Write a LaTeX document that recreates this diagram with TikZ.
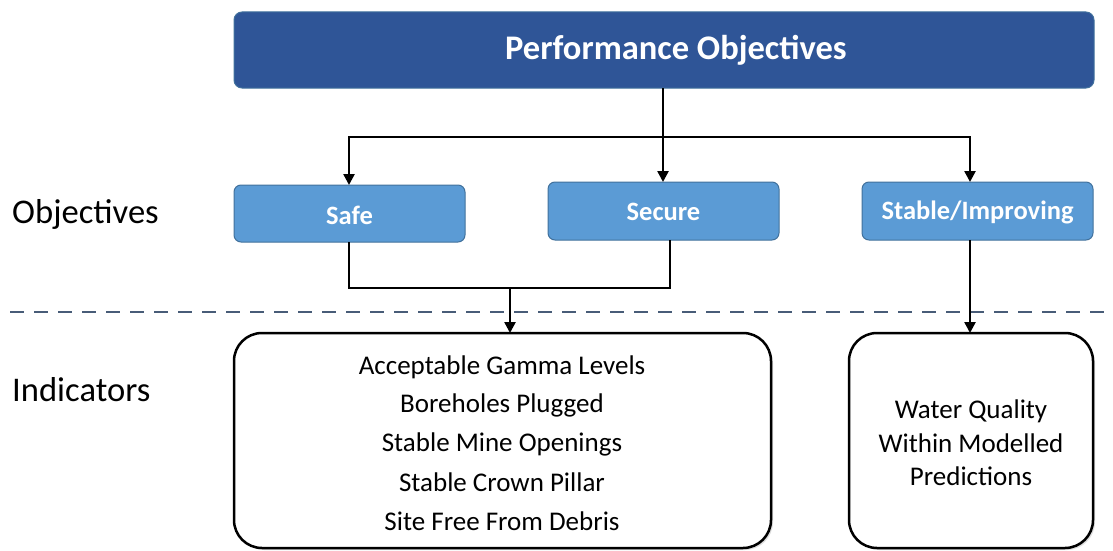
\documentclass[tikz,border=0pt]{standalone}
\usepackage{fontspec}
\setmainfont{Carlito}
\usetikzlibrary{arrows.meta,shadows}
\definecolor{topblue}{RGB}{47,85,151}
\definecolor{midblue}{RGB}{91,155,213}
\definecolor{edgeblue}{RGB}{65,113,156}
\definecolor{dashc}{RGB}{72,92,120}
\tikzset{
  topbox/.style={draw=edgeblue, line width=1pt, fill=topblue, rounded corners=8pt},
  toptext/.style={text=white, font=\bfseries\fontsize{34.5}{38}\selectfont, inner sep=0pt},
  objbox/.style={draw=edgeblue, line width=1pt, fill=midblue, rounded corners=7pt},
  objtext/.style={text=white, font=\bfseries\fontsize{26.5}{30}\selectfont, inner sep=0pt},
  indbox/.style={draw=black, line width=2.5pt, fill=white, rounded corners=28pt, drop shadow={opacity=0.25, shadow xshift=2pt, shadow yshift=-2pt}},
  sidelabel/.style={anchor=west, font=\fontsize{34.6}{38}\selectfont, inner sep=0pt},
  conn/.style={draw=black, line width=2.5pt},
  arr/.style={conn, -{Triangle[width=11pt,length=11pt]}},
  indtext/.style={font=\fontsize{27}{30}\selectfont, inner sep=0pt}
}
\begin{document}
\begin{tikzpicture}[x=1pt,y=-1pt]
\useasboundingbox (0,0) rectangle (1113,551);
% boxes
\path[topbox] (234,12) rectangle (1094,88);
\node[toptext] (top) at (676,50) {Performance Objectives};
\coordinate (topb) at (663,88);

\path[objbox] (234,185) rectangle (465,242);
\node[objtext] (safe) at (349.5,215) {Safe};
\path[objbox] (548,182) rectangle (779,240);
\node[objtext] (secure) at (663.5,212) {Secure};
\path[objbox] (862,182) rectangle (1093,240);
\node[objtext] (stable) at (977.5,212) {Stable/Improving};

\coordinate (safeT) at (349,185);
\coordinate (safeB) at (349,242);
\coordinate (secT) at (663,182);
\coordinate (secB) at (670,240);
\coordinate (stabT) at (970,182);
\coordinate (stabB) at (970,240);

\path[indbox] (234,333) rectangle (771,548);
\path[indbox] (849,333) rectangle (1093,548);
\coordinate (ind1T) at (510,333);
\coordinate (ind2T) at (970,333);

\node[indtext] (i1) at (502,367) {Acceptable Gamma Levels};
\node[indtext] (i2) at (502,405.5) {Boreholes Plugged};
\node[indtext] (i3) at (502,444) {Stable Mine Openings};
\node[indtext] (i4) at (502,482.5) {Stable Crown Pillar};
\node[indtext] (i5) at (502,521) {Site Free From Debris};

\node[indtext] (w1) at (971,411) {Water Quality};
\node[indtext] (w2) at (971,443.5) {Within Modelled};
\node[indtext] (w3) at (971,476) {Predictions};

\node[sidelabel] (lobj) at (12,214) {Objectives};
\node[sidelabel] (lind) at (12,390) {Indicators};

% dashed separator
\draw[dashc, line width=1.3pt, dash pattern=on 14pt off 10pt] (10,312) -- (1113,312);

% connectors
\draw[conn] (topb) -- (663,137);
\draw[arr] (663,137) -| (safeT);
\draw[arr] (663,137) -- (secT);
\draw[arr] (663,137) -| (stabT);
\draw[conn] (safeB) |- (510,288);
\draw[conn] (secB) |- (510,288);
\draw[arr] (510,288) -- (ind1T);
\draw[arr] (stabB) -- (ind2T);
\end{tikzpicture}
\end{document}
